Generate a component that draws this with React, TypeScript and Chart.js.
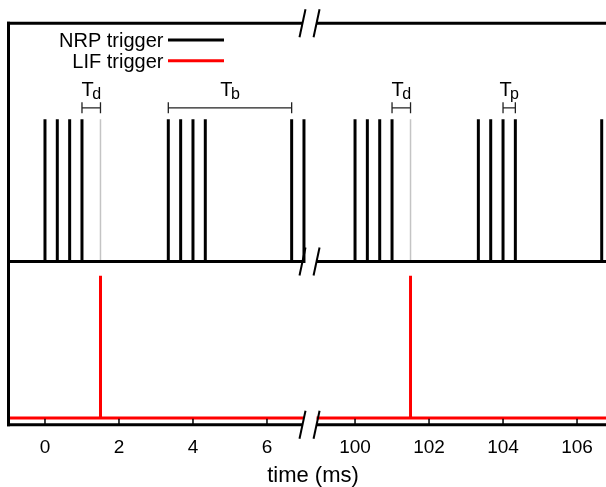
import React, { useEffect, useRef } from "react";
import { Chart, registerables } from "chart.js";

Chart.register(...registerables);

// ---- data (times in ms) ----
const nrpSpikeTimes = [
  0, 0.333, 0.667, 1.0, 3.333, 3.667, 4.0, 4.333, 6.667, 7.0,
  100, 100.333, 100.667, 101.0, 103.333, 103.667, 104.0, 104.333, 106.667,
];
const lifSpikeTimes = [1.5, 101.5];
const tickValues = [0, 2, 4, 6, 100, 102, 104, 106];
const tickLabels = ["0", "2", "4", "6", "100", "102", "104", "106"];
// visible time ranges of the broken axis (data lines)
const dataSegments = [
  [-1.2, 7.0],
  [98.96, 107.2],
];
// break marks (time at each slash)
const breakSlashes = [6.96, 98.96];
const AXIS_SKIP = 91.62; // ms hidden by the break
// levels
const NRP_BASE = 1.1;
const NRP_TOP = 2.1;
const LIF_BASE = 0;
const LIF_TOP = 1.0;
// annotation brackets
const bracketSubs = ["d", "b", "d", "p"];
const bracketStarts = [1.0, 3.333, 101.0, 104.0];
const bracketEnds = [1.5, 6.667, 101.5, 104.333];
const BRACKET_LEVEL = 2.18;
// legend
const legendLabels = ["NRP trigger", "LIF trigger"];
const legendColors = ["#000000", "#ff0000"];

const toAxis = (t: number) => (t > 50 ? t - AXIS_SKIP : t);

function spikeTrain(times: number[], base: number, top: number) {
  const pts: { x: number; y: number | null }[] = [];
  dataSegments.forEach(([a, b], i) => {
    pts.push({ x: toAxis(a), y: base });
    times
      .filter((t) => t >= a && t <= b)
      .forEach((t) => {
        pts.push({ x: toAxis(t), y: base });
        pts.push({ x: toAxis(t), y: top });
        pts.push({ x: toAxis(t), y: base });
      });
    pts.push({ x: toAxis(b), y: base });
    if (i < dataSegments.length - 1) pts.push({ x: toAxis(b) + 0.01, y: null });
  });
  return pts;
}

function ghostMarks(times: number[], base: number, top: number) {
  const pts: { x: number; y: number | null }[] = [];
  times.forEach((t) => {
    pts.push({ x: toAxis(t), y: base });
    pts.push({ x: toAxis(t), y: top });
    pts.push({ x: toAxis(t) + 0.001, y: null });
  });
  return pts;
}

const FONT = '"Liberation Sans", Arial, Helvetica, sans-serif';

const framePlugin = {
  id: "frame",
  afterDraw(chart: any) {
    const { ctx, chartArea } = chart;
    const xs = chart.scales.x;
    const ys = chart.scales.y;
    const X = (t: number) => xs.getPixelForValue(toAxis(t));
    const Y = (v: number) => ys.getPixelForValue(v);
    const { left, right, top, bottom } = chartArea;
    const s1 = X(breakSlashes[0]);
    const s2 = X(breakSlashes[1]);

    ctx.save();
    ctx.strokeStyle = "#000";
    ctx.lineCap = "butt";
    ctx.lineWidth = 3;
    // left border
    ctx.beginPath();
    ctx.moveTo(left, top - 1.5);
    ctx.lineTo(left, bottom + 1.5);
    ctx.stroke();
    // top border & bottom axis with break
    [top, bottom].forEach((yy) => {
      ctx.beginPath();
      ctx.moveTo(left - 1.5, yy);
      ctx.lineTo(s1, yy);
      ctx.moveTo(s2, yy);
      ctx.lineTo(right + 2, yy);
      ctx.stroke();
    });
    // break slashes
    ctx.lineWidth = 2;
    [top, Y(NRP_BASE), bottom].forEach((yy) => {
      [s1, s2].forEach((sx) => {
        ctx.beginPath();
        ctx.moveTo(sx - 3, yy + 14);
        ctx.lineTo(sx + 3, yy - 14);
        ctx.stroke();
      });
    });
    // inward ticks
    ctx.lineWidth = 1.5;
    tickValues.forEach((v) => {
      const px = X(v);
      ctx.beginPath();
      ctx.moveTo(px, bottom);
      ctx.lineTo(px, bottom - 6);
      ctx.stroke();
    });
    // tick labels
    ctx.fillStyle = "#000";
    ctx.font = `19px ${FONT}`;
    ctx.textAlign = "center";
    ctx.textBaseline = "alphabetic";
    tickValues.forEach((v, i) => {
      ctx.fillText(tickLabels[i], X(v), bottom + 28);
    });
    // axis title
    ctx.font = `22px ${FONT}`;
    ctx.fillText("time (ms)", 313, 482);

    // legend
    ctx.font = `20px ${FONT}`;
    ctx.textAlign = "right";
    legendLabels.forEach((lab, i) => {
      const ly = 40 + i * 20.7;
      ctx.fillStyle = "#000";
      ctx.fillText(lab, 163.5, ly + 6.8);
      ctx.strokeStyle = legendColors[i];
      ctx.lineWidth = 3;
      ctx.beginPath();
      ctx.moveTo(168, ly);
      ctx.lineTo(224, ly);
      ctx.stroke();
    });

    // brackets
    const by = Y(BRACKET_LEVEL);
    bracketSubs.forEach((sub, i) => {
      const a = X(bracketStarts[i]);
      const b = X(bracketEnds[i]);
      ctx.strokeStyle = "#222";
      ctx.lineWidth = 1.3;
      ctx.beginPath();
      ctx.moveTo(a, by);
      ctx.lineTo(b, by);
      ctx.moveTo(a, by - 5.5);
      ctx.lineTo(a, by + 5.5);
      ctx.moveTo(b, by - 5.5);
      ctx.lineTo(b, by + 5.5);
      ctx.stroke();
      // label T_sub
      ctx.fillStyle = "#000";
      ctx.textAlign = "left";
      ctx.font = `20px ${FONT}`;
      const wT = ctx.measureText("T").width;
      ctx.font = `16px ${FONT}`;
      const wS = ctx.measureText(sub).width;
      const total = wT - 1.5 + wS;
      const x0 = (a + b) / 2 - total / 2;
      ctx.font = `20px ${FONT}`;
      ctx.fillText("T", x0, by - 11.5);
      ctx.font = `16px ${FONT}`;
      ctx.fillText(sub, x0 + wT - 1.5, by - 8.5);
    });
    ctx.restore();
  },
};

export default function App() {
  const ref = useRef<HTMLCanvasElement | null>(null);
  useEffect(() => {
    if (!ref.current) return;
    const chart = new Chart(ref.current, {
      type: "line",
      data: {
        datasets: [
          {
            label: "LIF trigger",
            data: spikeTrain(lifSpikeTimes, LIF_BASE, LIF_TOP) as any,
            borderColor: "#ff0000",
            borderWidth: 3,
            pointRadius: 0,
            tension: 0,
            spanGaps: false,
            borderJoinStyle: "miter",
            borderCapStyle: "butt",
          },
          {
            label: "NRP trigger",
            data: spikeTrain(nrpSpikeTimes, NRP_BASE, NRP_TOP) as any,
            borderColor: "#000000",
            borderWidth: 3,
            pointRadius: 0,
            tension: 0,
            spanGaps: false,
            borderJoinStyle: "miter",
            borderCapStyle: "butt",
          },
          {
            label: "LIF ghost",
            data: ghostMarks(lifSpikeTimes, NRP_BASE, NRP_TOP) as any,
            borderColor: "#c4c4c4",
            borderWidth: 1.5,
            pointRadius: 0,
            tension: 0,
            spanGaps: false,
          },
        ],
      },
      options: {
        responsive: false,
        animation: false,
        events: [],
        layout: { padding: { left: 8.5, top: 23.3, right: 0, bottom: 62.3 } },
        plugins: { legend: { display: false }, tooltip: { enabled: false } },
        scales: {
          x: { type: "linear", display: false, min: -0.986, max: 15.163 },
          y: { type: "linear", display: false, min: -0.047, max: 2.774 },
        },
      },
      plugins: [framePlugin],
    });
    return () => chart.destroy();
  }, []);
  return (
    <div style={{ position: "absolute", left: 0, top: 0, background: "#fff" }}>
      <canvas ref={ref} width={606} height={487} style={{ display: "block" }} />
    </div>
  );
}
